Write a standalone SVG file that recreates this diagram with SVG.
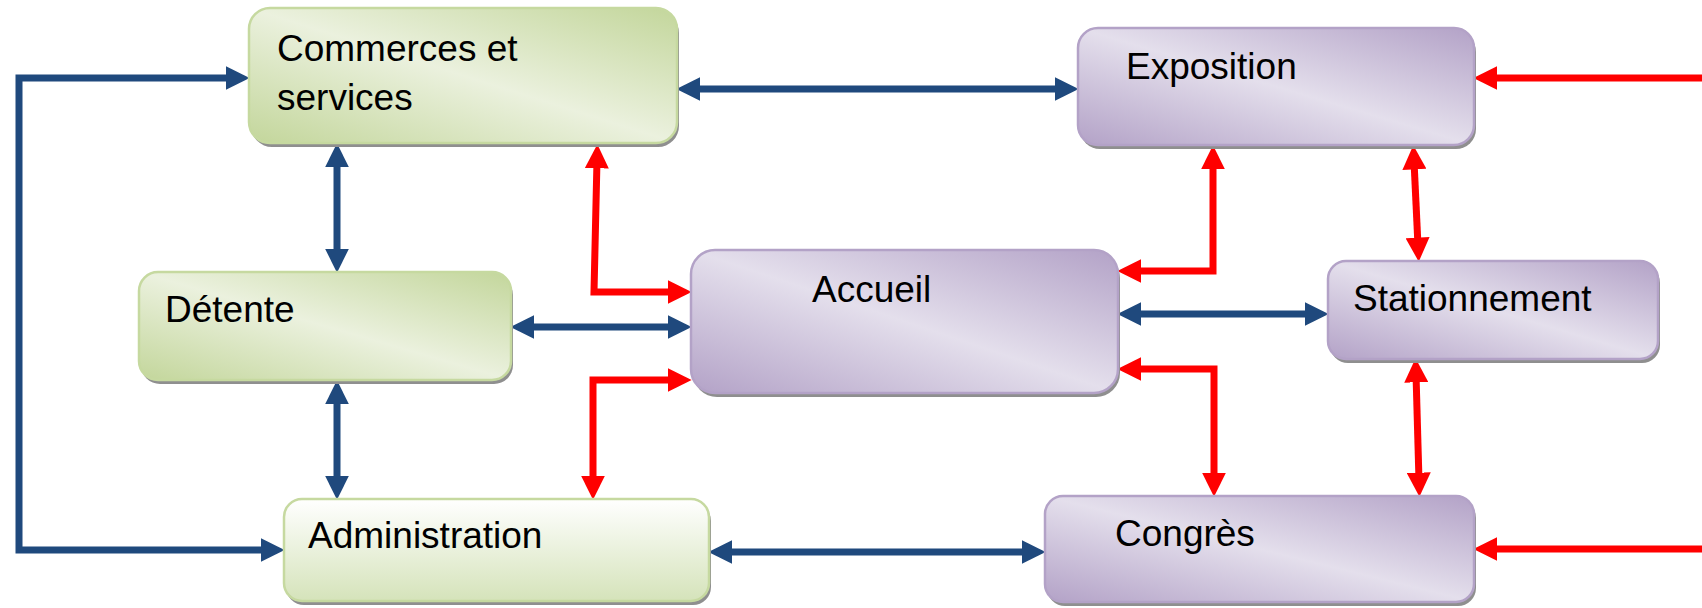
<svg xmlns="http://www.w3.org/2000/svg" width="1702" height="608" viewBox="0 0 1702 608">
<defs>
<style>
.lbl{font-family:"Liberation Sans",Arial,sans-serif;font-size:37px;fill:#000}
.green{fill:url(#gG);stroke:#C6D9A0;stroke-width:2.5}
.adm{fill:url(#gA);stroke:#C6D9A0;stroke-width:2.5}
.purple{fill:url(#gP);stroke:#B3A2C7;stroke-width:2.5}
.sh{fill:#8f8f8f}
.blue{fill:none;stroke:#1F497D;stroke-width:7;marker-start:url(#ab);marker-end:url(#ab)}
.red{fill:none;stroke:#FF0000;stroke-width:7;marker-start:url(#ar);marker-end:url(#ar)}
.redin{fill:none;stroke:#FF0000;stroke-width:7;marker-end:url(#ar)}
.blue,.red,.redin{stroke-linejoin:miter}
</style>
<linearGradient id="gG" x1="1" y1="0" x2="0" y2="1">
<stop offset="0" stop-color="#C3D69B"/>
<stop offset="0.5" stop-color="#EBF1DE"/>
<stop offset="1" stop-color="#C3D69B"/>
</linearGradient>
<linearGradient id="gA" x1="0" y1="0" x2="0" y2="1">
<stop offset="0" stop-color="#FFFFFF"/>
<stop offset="1" stop-color="#D5E3BA"/>
</linearGradient>
<linearGradient id="gP" x1="1" y1="0" x2="0" y2="1">
<stop offset="0" stop-color="#B3A2C7"/>
<stop offset="0.5" stop-color="#E4DFEC"/>
<stop offset="1" stop-color="#B3A2C7"/>
</linearGradient>
<marker id="ab" markerUnits="userSpaceOnUse" markerWidth="24" markerHeight="24" viewBox="0 0 23 23" refX="8" refY="11.5" orient="auto-start-reverse">
<path d="M0,0 L23,11.5 L0,23 z" fill="#1F497D"/>
</marker>
<marker id="ar" markerUnits="userSpaceOnUse" markerWidth="24" markerHeight="24" viewBox="0 0 23 23" refX="8" refY="11.5" orient="auto-start-reverse">
<path d="M0,0 L23,11.5 L0,23 z" fill="#FF0000"/>
</marker>
</defs>

<g id="connectors">
<path class="blue" d="M234,78 H19 V550 H269"/>
<path class="blue" d="M692,89 H1063"/>
<path class="blue" d="M337,159 V257"/>
<path class="blue" d="M337,396 V484"/>
<path class="blue" d="M526,327 H676"/>
<path class="blue" d="M1133,314 H1313"/>
<path class="blue" d="M724,552 H1030"/>
<path class="red" d="M597,160 L594,292 H676"/>
<path class="red" d="M676,380 H593 V484"/>
<path class="red" d="M1213,161 V271 H1133"/>
<path class="red" d="M1133,369 H1214 V481"/>
<path class="red" d="M1414,161 L1418,246"/>
<path class="red" d="M1416,374 L1419,481"/>
<path class="redin" d="M1702,78 H1489"/>
<path class="redin" d="M1702,549 H1489"/>
</g>

<g id="commerces">
<rect class="sh" x="251" y="12" width="428" height="135" rx="21"/>
<rect class="green" x="249" y="8" width="428" height="135" rx="21"/>
<text class="lbl" x="277" y="61">Commerces et</text>
<text class="lbl" x="277" y="110">services</text>
</g>

<g id="exposition">
<rect class="sh" x="1080" y="32" width="396" height="117" rx="20"/>
<rect class="purple" x="1078" y="28" width="396" height="117" rx="20"/>
<text class="lbl" x="1126" y="79">Exposition</text>
</g>

<g id="detente">
<rect class="sh" x="141" y="276" width="372" height="108" rx="19"/>
<rect class="green" x="139" y="272" width="372" height="108" rx="19"/>
<text class="lbl" x="165" y="322">Détente</text>
</g>

<g id="accueil">
<rect class="sh" x="693" y="254" width="427" height="143" rx="24"/>
<rect class="purple" x="691" y="250" width="427" height="143" rx="24"/>
<text class="lbl" x="812" y="302">Accueil</text>
</g>

<g id="stationnement">
<rect class="sh" x="1330" y="265" width="330" height="98" rx="18"/>
<rect class="purple" x="1328" y="261" width="330" height="98" rx="18"/>
<text class="lbl" x="1353" y="311">Stationnement</text>
</g>

<g id="administration">
<rect class="sh" x="286" y="503" width="425" height="102" rx="18"/>
<rect class="adm" x="284" y="499" width="425" height="102" rx="18"/>
<text class="lbl" x="308" y="548">Administration</text>
</g>

<g id="congres">
<rect class="sh" x="1047" y="500" width="429" height="106" rx="18"/>
<rect class="purple" x="1045" y="496" width="429" height="106" rx="18"/>
<text class="lbl" x="1115" y="546">Congrès</text>
</g>
</svg>
